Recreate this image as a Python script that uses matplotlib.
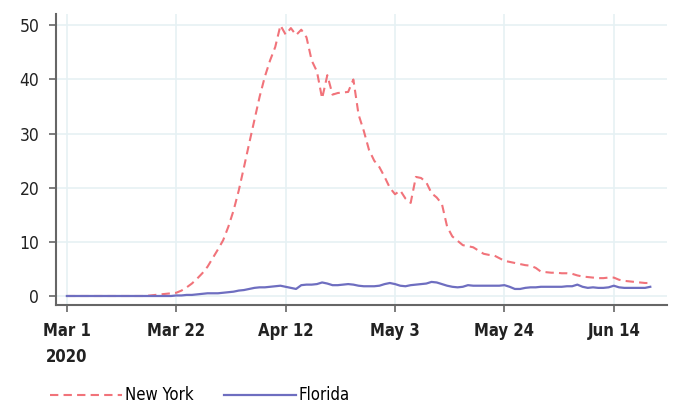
import matplotlib.pyplot as plt
import matplotlib.dates as mdates
import numpy as np
import pandas as pd

plt.rcParams['font.family'] = ['DejaVu Sans']
plt.rcParams['font.stretch'] = 'condensed'

# dias a partir de 1 de marco de 2020
dates = pd.date_range('2020-03-01', periods=113, freq='D')

new_york = [0.0] * 16 + [
    0.1, 0.2, 0.3, 0.4, 0.5, 0.6, 1.0, 1.6, 2.3, 3.2, 4.2, 5.4, 7.0, 8.6,
    10.3, 12.8, 15.8, 19.5, 23.8, 28.2, 32.5, 36.8, 40.5, 43.5, 46.0, 50.0,
    48.3, 49.5, 48.2, 49.2, 47.8, 43.5, 41.5, 36.5, 40.8, 37.2, 37.5, 37.6,
    37.7, 40.0, 33.5, 30.5, 27.0, 25.0, 23.8, 22.0, 20.0, 18.8, 19.5, 18.0,
    17.2, 22.0, 21.8, 21.0, 19.0, 18.2, 17.0, 12.8, 11.0, 10.2, 9.4, 9.2,
    9.0, 8.4, 7.8, 7.6, 7.5, 7.0, 6.5, 6.3, 6.1, 5.9, 5.7, 5.6, 5.2, 4.5,
    4.4, 4.3, 4.3, 4.2, 4.2, 4.1, 3.8, 3.6, 3.5, 3.4, 3.3, 3.3, 3.4, 3.4,
    3.0, 2.8, 2.7, 2.6, 2.5, 2.4, 2.4]

florida = [0.0] * 21 + [
    0.1, 0.1, 0.2, 0.2, 0.3, 0.4, 0.5, 0.5, 0.5, 0.6, 0.7, 0.8, 1.0, 1.1,
    1.3, 1.5, 1.6, 1.6, 1.7, 1.8, 1.9, 1.7, 1.5, 1.3, 2.0, 2.1, 2.1, 2.2,
    2.5, 2.3, 2.0, 2.0, 2.1, 2.2, 2.1, 1.9, 1.8, 1.8, 1.8, 1.9, 2.2, 2.4,
    2.2, 1.9, 1.8, 2.0, 2.1, 2.2, 2.3, 2.6, 2.5, 2.2, 1.9, 1.7, 1.6, 1.7,
    2.0, 1.9, 1.9, 1.9, 1.9, 1.9, 1.9, 2.0, 1.7, 1.3, 1.3, 1.5, 1.6, 1.6,
    1.7, 1.7, 1.7, 1.7, 1.7, 1.8, 1.8, 2.1, 1.7, 1.5, 1.6, 1.5, 1.5, 1.6,
    1.9, 1.6, 1.5, 1.5, 1.5, 1.5, 1.5, 1.7]

tick_dates = pd.to_datetime(['2020-03-01', '2020-03-22', '2020-04-12',
                             '2020-05-03', '2020-05-24', '2020-06-14'])
tick_labels = ['Mar 1\n2020', 'Mar 22', 'Apr 12', 'May 3', 'May 24', 'Jun 14']
y_ticks = [0, 10, 20, 30, 40, 50]

fig = plt.figure(figsize=(6.79, 4.08), dpi=100)
ax = fig.add_axes([0.0825, 0.2525, 0.8995, 0.7132])

ax.plot(dates, new_york, color='#f0646c', lw=1.5, dashes=(4, 2.5),
        alpha=0.9, label='New York')
ax.plot(dates, florida, color='#6e6ec0', lw=1.6, label='Florida')

ax.set_xlim(pd.Timestamp('2020-02-27 22:00'), pd.Timestamp('2020-06-24 04:00'))
ax.set_ylim(-1.66, 52.1)

ax.set_xticks(tick_dates)
ax.set_xticklabels(tick_labels, fontweight='bold', fontsize=12, color='#222',
                   linespacing=1.6, va='top')
ax.set_yticks(y_ticks)
ax.set_yticklabels([str(v) for v in y_ticks], fontsize=12.5, color='#222')

ax.grid(True, color='#e6f1f4', lw=1.2)
ax.set_axisbelow(True)
for s in ['top', 'right']:
    ax.spines[s].set_visible(False)
for s in ['left', 'bottom']:
    ax.spines[s].set_color('#666')
    ax.spines[s].set_linewidth(1.5)
ax.tick_params(axis='both', length=5, width=1.2, color='#666', pad=7)

fig.legend(loc='lower left', bbox_to_anchor=(0.052, -0.028), ncol=2,
           frameon=False, fontsize=12, handlelength=4.3, columnspacing=1.8,
           handletextpad=0.2)

fig.savefig('out.png', dpi=100)
